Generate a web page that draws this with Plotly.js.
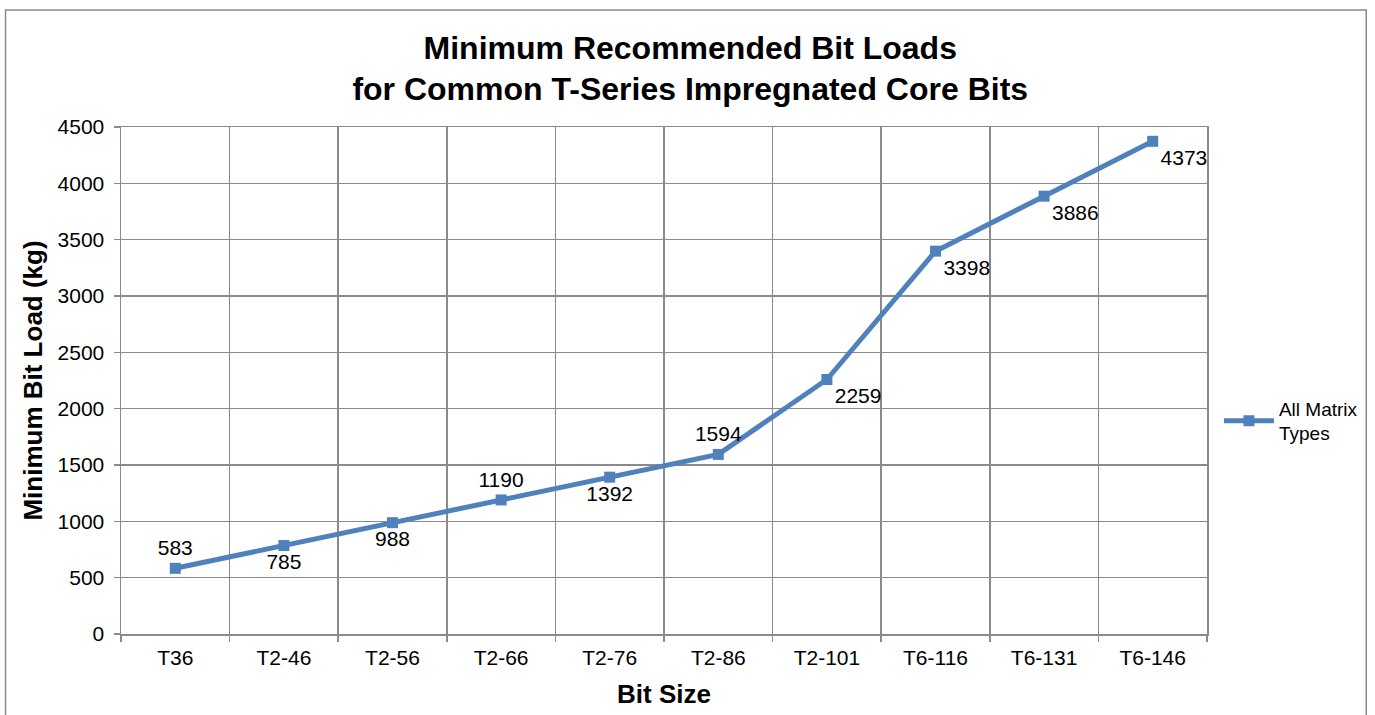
<!DOCTYPE html>
<html>
<head>
<meta charset="utf-8">
<script src="https://cdn.plot.ly/plotly-3.0.1.min.js"></script>
<style>html,body{margin:0;padding:0;background:#fff;}#chart{width:1375px;height:715px;}</style>
</head>
<body>
<div id="chart"></div>
<script>
const categories = ["T36","T2-46","T2-56","T2-66","T2-76","T2-86","T2-101","T6-116","T6-131","T6-146"];
const bitLoads = [583,785,988,1190,1392,1594,2259,3398,3886,4373];
const labelPositions = ["top center","bottom center","bottom center","top center","bottom center","top center","bottom right","bottom right","bottom right","bottom right"];
const seriesName = "All Matrix<br>Types";
const yTicks = [0,500,1000,1500,2000,2500,3000,3500,4000,4500];

const L = 121, R = 1212, T = 127, B = 634, W = 1375, H = 715;
const pw = R - L, ph = B - T;
const px = v => (v - L) / pw;
const py = v => (B - v) / ph;

const trace = {
  x: categories,
  y: bitLoads,
  type: "scatter",
  mode: "lines+markers+text",
  name: seriesName,
  line: {color: "#4F81BD", width: 5},
  marker: {symbol: "square", size: 11, color: "#4F81BD"},
  text: bitLoads.map(String),
  textposition: labelPositions,
  textfont: {family: "Liberation Sans, Arial, sans-serif", size: 21, color: "#000"},
  cliponaxis: false
};

const layout = {
  width: W, height: H,
  margin: {l: L, r: W - R, t: T, b: H - B},
  paper_bgcolor: "#fff", plot_bgcolor: "#fff",
  font: {family: "Liberation Sans, Arial, sans-serif", color: "#000"},
  title: {
    text: "<b>Minimum Recommended Bit Loads<br>for Common T-Series Impregnated Core Bits</b>",
    font: {size: 32, color: "#000"},
    x: 0.502, xref: "container", xanchor: "center", y: 0.918, yanchor: "middle"
  },
  xaxis: {
    type: "category",
    range: [-0.5, 9.5],
    tickson: "boundaries",
    showgrid: true, gridcolor: "#8a8a8a", gridwidth: 1.5,
    showline: true, linecolor: "#8a8a8a", linewidth: 1.5, mirror: true,
    ticks: "outside", ticklen: 6, tickcolor: "#8a8a8a", tickwidth: 1.5,
    tickfont: {size: 21}, ticklabelstandoff: 4,
    title: {text: "<b>Bit Size</b>", font: {size: 26}, standoff: 17},
    zeroline: false
  },
  yaxis: {
    range: [0, 4500],
    tickvals: yTicks,
    showgrid: true, gridcolor: "#8a8a8a", gridwidth: 1.5,
    showline: true, linecolor: "#8a8a8a", linewidth: 1.5, mirror: true,
    ticks: "outside", ticklen: 6, tickcolor: "#8a8a8a", tickwidth: 1.5,
    tickfont: {size: 21}, ticklabelstandoff: 5,
    title: {text: "<b>Minimum Bit Load (kg)</b>", font: {size: 26}, standoff: 7},
    zeroline: false
  },
  showlegend: true,
  legend: {
    x: px(1224), y: py(421), xanchor: "left", yanchor: "middle",
    font: {size: 19}, bgcolor: "rgba(0,0,0,0)", itemwidth: 50
  },
  shapes: [{
    type: "rect", xref: "paper", yref: "paper",
    x0: px(5), x1: px(1372), y0: py(725), y1: py(10),
    line: {color: "#8a8a8a", width: 1.5}, fillcolor: "rgba(0,0,0,0)", layer: "below"
  }]
};

Plotly.newPlot("chart", [trace], layout, {displayModeBar: false, staticPlot: true});
</script>
</body>
</html>
